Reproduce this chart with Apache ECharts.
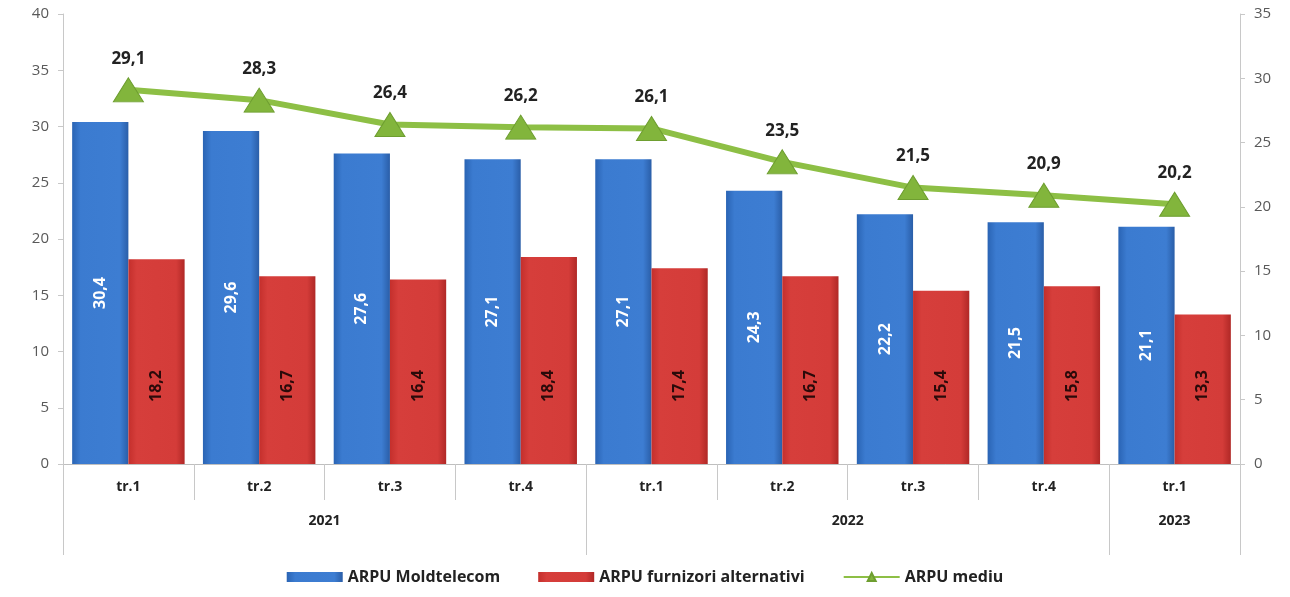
<!DOCTYPE html>
<html><head><meta charset="utf-8">
<script src="https://cdn.jsdelivr.net/npm/echarts@6/dist/echarts.min.js"></script>
<style>html,body{margin:0;padding:0;background:#fff}#c{width:1290px;height:597px}</style>
</head><body><div id="c"></div>
<script>
const quarters = ['tr.1','tr.2','tr.3','tr.4','tr.1','tr.2','tr.3','tr.4','tr.1'];
const years = [{label:'2021', center:2}, {label:'2022', center:6}, {label:'2023', center:8.5}];
const yearBoundaries = [0,4,8];
const moldtelecom = [30.4,29.6,27.6,27.1,27.1,24.3,22.2,21.5,21.1];
const alternativi = [18.2,16.7,16.4,18.4,17.4,16.7,15.4,15.8,13.3];
const mediu = [29.1,28.3,26.4,26.2,26.1,23.5,21.5,20.9,20.2];
const leftTicks = {min:0,max:40,interval:5};
const rightTicks = {min:0,max:35,interval:5};

const fmt = v => String(v.toFixed(1)).replace('.',',');
const font = "'Open Sans', 'Liberation Sans', sans-serif";
const chart = echarts.init(document.getElementById('c'));
chart.setOption({
  animation:false,
  textStyle:{fontFamily:font},
  grid:{left:63,right:50,top:14,bottom:133},
  legend:{
    bottom:7,left:'center',itemGap:38,itemWidth:56,itemHeight:10,
    textStyle:{fontFamily:font,fontWeight:'bold',fontSize:16,color:'#222'},
    data:[{name:'ARPU Moldtelecom',icon:'rect'},{name:'ARPU furnizori alternativi',icon:'rect'},{name:'ARPU mediu'}]
  },
  xAxis:[
    {type:'category',data:quarters,position:'bottom',
     axisLine:{show:true,lineStyle:{color:'#bfbfbf'}},
     axisTick:{show:true,length:36,interval:0,lineStyle:{color:'#c8c8c8'}},
     axisLabel:{margin:16,color:'#222',fontWeight:'bold',fontSize:14,fontFamily:font,interval:0}},
    {type:'category',data:quarters,position:'bottom',
     axisLine:{show:false},
     axisTick:{show:true,length:91,interval:(i)=>yearBoundaries.includes(i),lineStyle:{color:'#c8c8c8'}},
     axisLabel:{show:false}},
    {type:'value',min:0,max:quarters.length,interval:0.5,position:'bottom',offset:44,
     axisLine:{show:false},axisTick:{show:false},splitLine:{show:false},
     axisLabel:{color:'#222',fontWeight:'bold',fontSize:14,fontFamily:font,margin:6,showMinLabel:true,showMaxLabel:true,
       formatter:(v)=>{const y=years.find(o=>Math.abs(o.center-v)<1e-6);return y?y.label:'';}}}
  ],
  yAxis:[
    {type:'value',min:leftTicks.min,max:leftTicks.max,interval:leftTicks.interval,
     axisLine:{show:true,lineStyle:{color:'#c8c8c8'}},axisTick:{show:true,length:5,lineStyle:{color:'#c8c8c8'}},
     splitLine:{show:false},axisLabel:{color:'#595959',fontSize:15,margin:14,fontFamily:font}},
    {type:'value',min:rightTicks.min,max:rightTicks.max,interval:rightTicks.interval,position:'right',
     axisLine:{show:true,lineStyle:{color:'#c8c8c8'}},axisTick:{show:true,length:5,lineStyle:{color:'#c8c8c8'}},
     splitLine:{show:false},axisLabel:{color:'#595959',fontSize:15,margin:14,fontFamily:font}}
  ],
  series:[
    {name:'ARPU Moldtelecom',type:'bar',data:moldtelecom,barGap:'0%',barCategoryGap:'14%',
     itemStyle:{color:new echarts.graphic.LinearGradient(0,0,1,0,[
       {offset:0,color:'#2a64b4'},{offset:0.15,color:'#3b7bd0'},{offset:0.85,color:'#3d7dd2'},{offset:1,color:'#2a5ea8'}])},
     label:{show:true,position:'inside',rotate:90,align:'center',verticalAlign:'middle',
       color:'#fff',fontWeight:'bold',fontSize:16,fontFamily:font,formatter:p=>fmt(p.value)}},
    {name:'ARPU furnizori alternativi',type:'bar',data:alternativi,
     itemStyle:{color:new echarts.graphic.LinearGradient(0,0,1,0,[
       {offset:0,color:'#c42f2c'},{offset:0.15,color:'#d63e3b'},{offset:0.85,color:'#d43c39'},{offset:1,color:'#b02826'}])},
     label:{show:true,position:'insideBottom',distance:78,rotate:90,align:'center',verticalAlign:'middle',
       color:'#2a0a0a',fontWeight:'bold',fontSize:16,fontFamily:font,formatter:p=>fmt(p.value)}},
    {name:'ARPU mediu',type:'line',yAxisIndex:1,data:mediu,
     lineStyle:{color:'#8dbf45',width:6},itemStyle:{color:'#82b53c',borderColor:'#6e9e30',borderWidth:1},
     symbol:'triangle',symbolSize:[30,24],
     label:{show:true,position:'top',distance:10,color:'#222',fontWeight:'bold',fontSize:17,fontFamily:font,formatter:p=>fmt(p.value)}}
  ]
});
</script></body></html>
